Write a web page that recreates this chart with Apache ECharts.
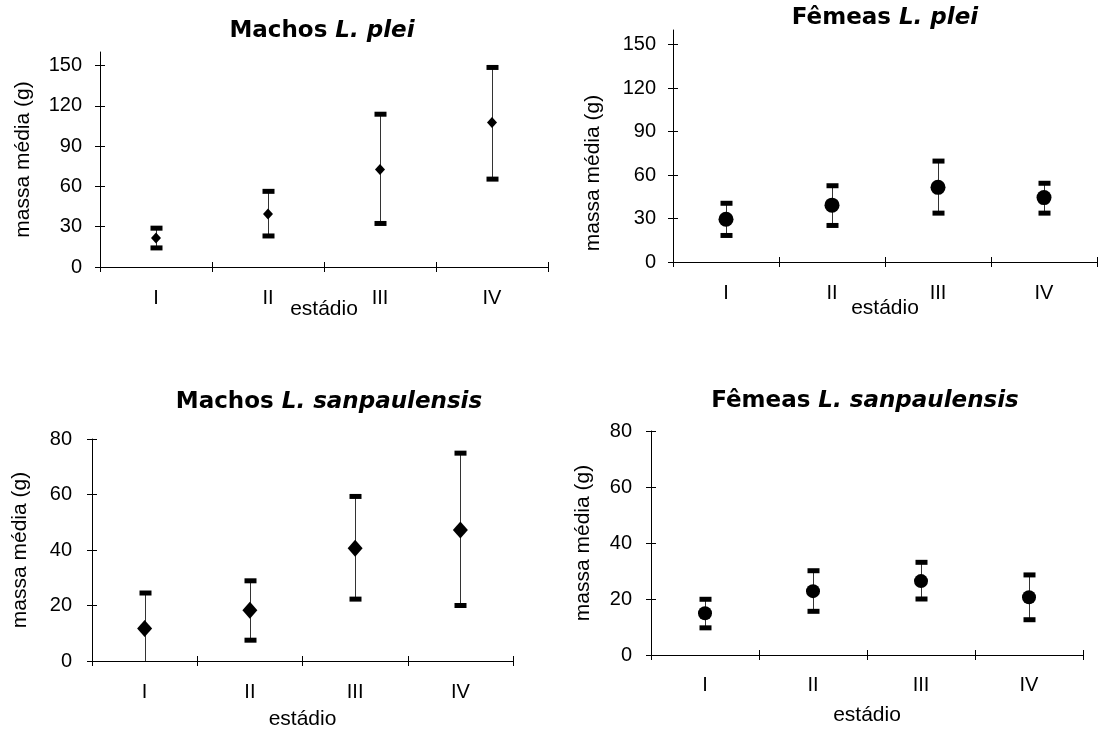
<!DOCTYPE html>
<html>
<head>
<meta charset="utf-8">
<script src="https://cdn.jsdelivr.net/npm/echarts@6/dist/echarts.min.js"></script>
<style>html,body{margin:0;padding:0;background:#fff}#c{width:1099px;height:731px}</style>
</head>
<body>
<div id="c"></div>
<script>
// ---- data ----
const categories = ['I', 'II', 'III', 'IV'];
const yTicksPlei = [0, 30, 60, 90, 120, 150];
const yTicksSanp = [0, 20, 40, 60, 80];

const machosPleiMean = [21.5, 39.5, 72.5, 107.5];
const machosPleiLow  = [14.2, 23.1, 32.4, 65.4];
const machosPleiHigh = [28.9, 56.3, 113.7, 148.5];

const femeasPleiMean = [29.5, 39.2, 51.5, 44.4];
const femeasPleiLow  = [18.3, 25.2, 33.7, 33.7];
const femeasPleiHigh = [40.5, 52.6, 69.6, 54.3];

const machosSanpMean = [11.7, 18.3, 40.6, 47.2];
const machosSanpLow  = [-1.1, 7.5, 22.3, 20.0];
const machosSanpHigh = [24.5, 28.9, 59.3, 74.9];

const femeasSanpMean = [14.9, 22.8, 26.4, 20.6];
const femeasSanpLow  = [9.7, 15.6, 20.0, 12.6];
const femeasSanpHigh = [19.9, 30.1, 33.1, 28.6];

// ---- chart ----
const FONT = 'Liberation Sans, Arial, sans-serif';
const TFONT = 'DejaVu Sans, sans-serif';

const panels = [
  { title: 'Machos {i|L. plei}', tx: 317, ty: 15,
    grid: {left: 100, top: 52, width: 448, height: 215},
    max: 160, ticks: yTicksPlei, yGap: 66, yPad: 0, xGap: 32, yMargin: 18, xMargin: 21,
    mean: machosPleiMean, low: machosPleiLow, high: machosPleiHigh, symbol: 'diamond', size: [10, 11] },
  { title: 'Fêmeas {i|L. plei}', tx: 880, ty: 2,
    grid: {left: 673, top: 30, width: 424, height: 232},
    max: 160, ticks: yTicksPlei, yGap: 69, yPad: 54, xGap: 36, yMargin: 17, xMargin: 21,
    mean: femeasPleiMean, low: femeasPleiLow, high: femeasPleiHigh, symbol: 'circle', size: 15 },
  { title: 'Machos {i|L. sanpaulensis}', tx: 324, ty: 386,
    grid: {left: 92, top: 439, width: 421, height: 222},
    max: 80, ticks: yTicksSanp, yGap: 61, yPad: 0, xGap: 48, yMargin: 20, xMargin: 21,
    mean: machosSanpMean, low: machosSanpLow, high: machosSanpHigh, symbol: 'diamond', size: [15, 17] },
  { title: 'Fêmeas {i|L. sanpaulensis}', tx: 860, ty: 385,
    grid: {left: 651, top: 431, width: 432, height: 224},
    max: 80, ticks: yTicksSanp, yGap: 57, yPad: 0, xGap: 50, yMargin: 19, xMargin: 20,
    mean: femeasSanpMean, low: femeasSanpLow, high: femeasSanpHigh, symbol: 'circle', size: 14 }
];

const lineStyle = {color: '#000', width: 1};
const option = {
  backgroundColor: '#fff',
  animation: false,
  title: [], grid: [], xAxis: [], yAxis: [], series: []
};

panels.forEach((p, k) => {
  option.title.push({
    text: p.title, left: p.tx, top: p.ty, textAlign: 'center',
    textStyle: {
      fontFamily: TFONT, fontWeight: 'bold', fontSize: 23, color: '#000',
      rich: { i: {fontFamily: TFONT, fontWeight: 'bold', fontStyle: 'italic', fontSize: 23, color: '#000'} }
    }
  });
  option.grid.push(Object.assign({containLabel: false}, p.grid));
  option.xAxis.push({
    gridIndex: k, type: 'category', data: categories, boundaryGap: true, position: 'bottom',
    axisLine: {show: true, onZero: false, lineStyle},
    axisTick: {show: true, length: 5, lineStyle},
    axisLabel: {color: '#000', fontFamily: FONT, fontSize: 20, margin: p.xMargin},
    name: 'estádio', nameLocation: 'middle', nameGap: p.xGap, nameMoveOverlap: false,
    nameTextStyle: {color: '#000', fontFamily: FONT, fontSize: 21},
    splitLine: {show: false}
  });
  option.xAxis.push({
    gridIndex: k, type: 'category', data: categories, boundaryGap: true, position: 'bottom',
    axisLine: {show: false, onZero: false},
    axisTick: {show: true, inside: true, length: 5, lineStyle},
    axisLabel: {show: false}, splitLine: {show: false}
  });
  option.yAxis.push({
    gridIndex: k, type: 'value', min: 0, max: p.max, position: 'left',
    axisLine: {show: true, onZero: false, lineStyle},
    axisTick: {show: true, length: 5, lineStyle, customValues: p.ticks},
    axisLabel: {color: '#000', fontFamily: FONT, fontSize: 20, margin: p.yMargin, customValues: p.ticks},
    splitLine: {show: false},
    name: 'massa média (g)', nameLocation: 'middle', nameGap: p.yGap, nameMoveOverlap: false,
    nameTextStyle: {color: '#000', fontFamily: FONT, fontSize: 21, padding: [0, p.yPad, 0, 0]}
  });
  option.yAxis.push({
    gridIndex: k, type: 'value', min: 0, max: p.max, position: 'left',
    axisLine: {show: false, onZero: false},
    axisTick: {show: true, inside: true, length: 5, lineStyle, customValues: p.ticks},
    axisLabel: {show: false}, splitLine: {show: false}
  });
  const errData = categories.map((c, i) => [i, p.low[i], p.high[i]]);
  option.series.push({
    type: 'custom', xAxisIndex: 2 * k, yAxisIndex: 2 * k, clip: true, z: 2,
    data: errData,
    encode: {x: 0, y: [1, 2]},
    renderItem: function (params, api) {
      const i = api.value(0);
      const pL = api.coord([i, api.value(1)]);
      const pH = api.coord([i, api.value(2)]);
      const cw = 12, ch = 5;
      const x = Math.round(pL[0]) + 0.5;
      return {
        type: 'group',
        children: [
          {type: 'line', shape: {x1: x, y1: pL[1], x2: x, y2: pH[1]}, style: {stroke: '#333', lineWidth: 1}},
          {type: 'rect', shape: {x: x - cw / 2, y: pH[1] - ch / 2, width: cw, height: ch}, style: {fill: '#000'}},
          {type: 'rect', shape: {x: x - cw / 2, y: pL[1] - ch / 2, width: cw, height: ch}, style: {fill: '#000'}}
        ]
      };
    }
  });
  option.series.push({
    type: 'scatter', xAxisIndex: 2 * k, yAxisIndex: 2 * k, z: 3,
    symbol: p.symbol, symbolSize: p.size,
    itemStyle: {color: '#000', opacity: 1},
    emphasis: {disabled: true},
    data: categories.map((c, i) => [i, p.mean[i]])
  });
});

const chart = echarts.init(document.getElementById('c'), null, {renderer: 'canvas'});
chart.setOption(option);
</script>
</body>
</html>
